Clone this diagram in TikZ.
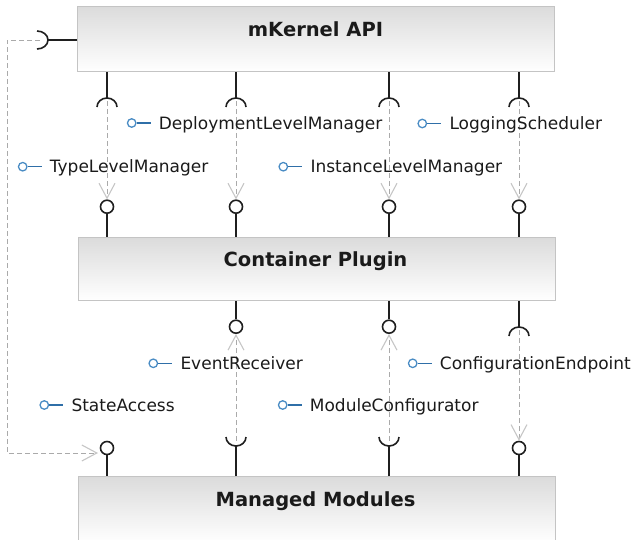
\documentclass[tikz,border=0pt]{standalone}
\usepackage{fontspec}
\setmainfont{DejaVu Sans}
\usetikzlibrary{arrows.meta}

\definecolor{portblue}{HTML}{4A8CC4}
\definecolor{portdark}{HTML}{2F6FA8}
\definecolor{boxline}{HTML}{C4C4C4}
\definecolor{depline}{HTML}{AAAAAA}
\definecolor{tipgray}{HTML}{C6C6C6}
\definecolor{ink}{HTML}{1A1A1A}

% provided-interface legend entry: blue lollipop icon followed by its name
\newcommand\ifaceentry[4]{%
  \node[iconc] (#1-icon) at (#2,-#3) {};
  \draw[iconl] (#1-icon.east) -- ++(14,0);
  \node[iface] (#1) at (#2+27,-#3-6) {#4};
}

\begin{document}
\begin{tikzpicture}[x=1pt,y=1pt,
  comp/.style={draw=boxline, line width=1.4pt, top color=black!14, bottom color=white,
               anchor=north west, inner sep=0pt, minimum width=477pt, minimum height=65pt},
  title/.style={font=\fontsize{19.5}{22}\selectfont\bfseries, text=ink, anchor=base},
  wire/.style={draw=black!88, line width=1.6pt},
  lolly/.style={circle, draw=black!88, line width=1.6pt, fill=white, minimum size=13pt, inner sep=0pt},
  dep/.style={draw=depline, line width=1pt, dash pattern=on 5pt off 3pt,
              -{Straight Barb[length=15pt,width=16pt,color=tipgray,line width=1.1pt]}},
  iconc/.style={circle, draw=portblue, line width=1.3pt, minimum size=8.5pt, inner sep=0pt},
  iconl/.style={draw=portdark, line width=1.5pt},
  iface/.style={font=\fontsize{17}{20}\selectfont, text=ink, anchor=base west, inner sep=0pt}
]
\useasboundingbox (0,0) rectangle (634,-539);

% components
\node[comp] (kernel) at (77,-6) {};
\node[title] (kernelT) at (315.5,-36) {mKernel API};
\node[comp, minimum height=63pt] (plugin) at (78,-237) {};
\node[title] (pluginT) at (315.5,-266) {Container Plugin};
\node[comp, minimum height=66pt] (modules) at (78,-476) {};
\node[title] (modulesT) at (315.5,-506) {Managed Modules};

% required interfaces of mKernel API (bottom side)
\foreach \i/\x in {a/107,b/236,c/389,d/519} {
  \coordinate (ks\i) at (\x,-98);
  \draw[wire] (kernel.south -| ks\i) -- (ks\i);
  \draw[wire] ([xshift=-10pt,yshift=-9pt]ks\i) arc[start angle=180,end angle=0,x radius=10,y radius=9];
}

% required interface of mKernel API (left side)
\coordinate (kl) at (48,-40);
\draw[wire] (kernel.west |- kl) -- (kl);
\draw[wire] ([xshift=-11pt,yshift=9pt]kl) arc[start angle=90,end angle=-90,x radius=11,y radius=9];

% provided interfaces on top of Container Plugin
\foreach \i/\x in {a/107,b/236,c/389,d/519} {
  \node[lolly] (pt\i) at (\x,-206.7) {};
  \draw[wire] (pt\i.south) -- (plugin.north -| pt\i);
}

% Container Plugin, bottom side
\foreach \i/\x in {b/236,c/389} {
  \node[lolly] (pb\i) at (\x,-326.7) {};
  \draw[wire] (plugin.south -| pb\i) -- (pb\i.north);
}
\coordinate (psd) at (519,-327);
\draw[wire] (plugin.south -| psd) -- (psd);
\draw[wire] ([xshift=-10pt,yshift=-9pt]psd) arc[start angle=180,end angle=0,x radius=10,y radius=9];

% Managed Modules, top side
\foreach \i/\x in {a/107,d/519} {
  \node[lolly] (mt\i) at (\x,-448) {};
  \draw[wire] (mt\i.south) -- (modules.north -| mt\i);
}
\foreach \i/\x in {b/236,c/389} {
  \coordinate (mc\i) at (\x,-446);
  \draw[wire] (modules.north -| mc\i) -- (mc\i);
  \draw[wire] ([xshift=-10pt,yshift=9pt]mc\i) arc[start angle=180,end angle=360,x radius=10,y radius=9];
}

% dependencies
\foreach \i in {a,b,c,d}
  \draw[dep] ([yshift=-3pt]ks\i) -- (pt\i);
\draw[dep] ([yshift=5pt]mcb) -- (pbb);
\draw[dep] ([yshift=5pt]mcc) -- (pbc);
\draw[dep] ([yshift=-3pt]psd) -- (mtd);
\coordinate (kltail) at (40,-40);
\coordinate (sahead) at (98,-453);
\draw[dep] (kltail) -- (7,-40) |- (sahead);

% interface names
\ifaceentry{deploy}{131.7}{123}{DeploymentLevelManager}
\ifaceentry{logging}{422.3}{123.5}{LoggingScheduler}
\ifaceentry{typelvl}{22.7}{166.7}{TypeLevelManager}
\ifaceentry{instlvl}{283.3}{166.7}{InstanceLevelManager}
\ifaceentry{events}{153.3}{363.3}{EventReceiver}
\ifaceentry{config}{412.7}{363.3}{ConfigurationEndpoint}
\ifaceentry{state}{44.3}{405}{StateAccess}
\ifaceentry{modconf}{282.7}{405}{ModuleConfigurator}
\end{tikzpicture}
\end{document}
